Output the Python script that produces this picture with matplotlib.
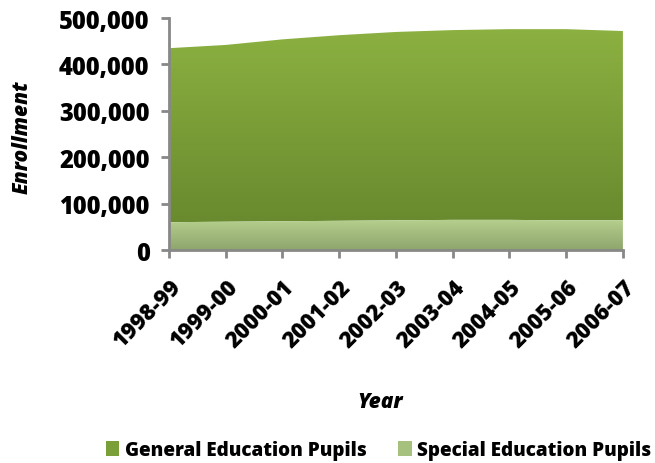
import matplotlib
matplotlib.use("Agg")
import matplotlib.pyplot as plt
import numpy as np
from matplotlib.patches import Patch
from matplotlib.ticker import FuncFormatter

years = ["1998-99", "1999-00", "2000-01", "2001-02", "2002-03",
         "2003-04", "2004-05", "2005-06", "2006-07"]
special = [60000, 61000, 62000, 63000, 64000, 65000, 65000, 64000, 64000]
general = [375000, 381000, 392000, 400000, 406000, 409000, 411000, 412000, 408000]

FONT = "Open Sans"
W = 800
fig = plt.figure(figsize=(6.55, 4.64), dpi=100)
ax = fig.add_axes([0.258, 0.459, 0.693, 0.5])

x = np.arange(len(years))
sp = np.array(special)
tot = sp + np.array(general)

def grad_fill(x, y0, y1, ctop, cbot):
    poly = ax.fill_between(x, y0, y1, facecolor="none", edgecolor="none")
    top = max(y1)
    bot = min(y0)
    ct = np.array(matplotlib.colors.to_rgb(ctop))
    cb = np.array(matplotlib.colors.to_rgb(cbot))
    t = np.linspace(0, 1, 256)[:, None]
    img = (ct * (1 - t) + cb * t)[:, None, :]
    im = ax.imshow(img, extent=[x[0], x[-1], bot, top], aspect="auto",
                   origin="upper", zorder=1)
    im.set_clip_path(poly.get_paths()[0], transform=ax.transData)

grad_fill(x, sp, tot, "#8cb141", "#698a2e")
grad_fill(x, np.zeros_like(sp), sp, "#b6d08e", "#8ea56c")

ax.set_xlim(0, len(years) - 1)
ax.set_ylim(0, 500000)
ax.set_xticks(x)
ax.set_xticklabels(years, rotation=45, ha="right", va="top",
                   rotation_mode="anchor", fontfamily=FONT,
                   fontweight=W, fontsize=16)
ax.set_yticks(np.arange(0, 500001, 100000))
ax.yaxis.set_major_formatter(FuncFormatter(lambda v, p: f"{int(v):,}"))
for lab in ax.get_yticklabels():
    lab.set_fontfamily(FONT)
    lab.set_fontweight(W)
    lab.set_fontsize(17)

for s in ["top", "right"]:
    ax.spines[s].set_visible(False)
for s in ["left", "bottom"]:
    ax.spines[s].set_color("#888888")
    ax.spines[s].set_linewidth(2)
ax.tick_params(axis="both", color="#888888", width=2, length=6)
ax.tick_params(axis="y", pad=8)
ax.tick_params(axis="x", pad=12)

ax.set_ylabel("Enrollment", fontfamily=FONT, fontweight=W,
              fontstyle="italic", fontsize=15, va="center")
ax.yaxis.set_label_coords(-0.324, 0.491)
ax.set_xlabel("Year", fontfamily=FONT, fontweight=W,
              fontstyle="italic", fontsize=15, va="center")
ax.xaxis.set_label_coords(0.465, -0.655)

handles = [Patch(facecolor="#7a9e38", label="General Education Pupils"),
           Patch(facecolor="#a6c07e", label="Special Education Pupils")]
fig.legend(handles=handles, loc="center", bbox_to_anchor=(0.578, 0.028),
           ncol=2, frameon=False, handlelength=0.7, handleheight=0.8,
           columnspacing=1.7, handletextpad=0.3,
           prop={"family": FONT, "weight": W, "size": 13.6})

fig.savefig("out.png", dpi=100)
